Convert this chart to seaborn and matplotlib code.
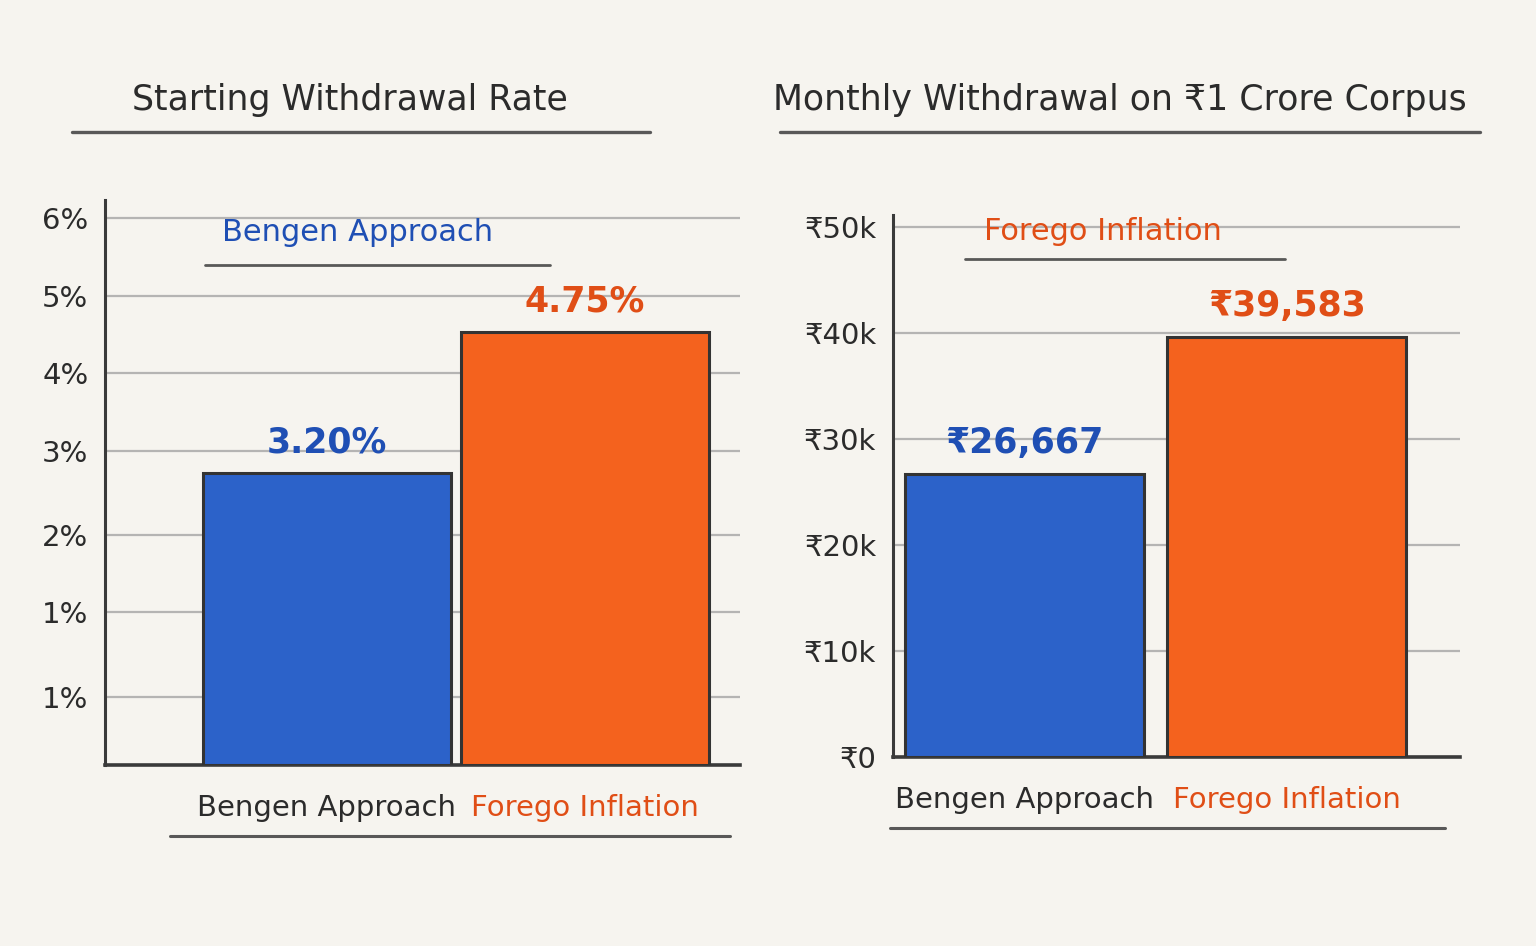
import matplotlib
matplotlib.use('Agg')
import matplotlib.pyplot as plt
import seaborn as sns
from matplotlib.lines import Line2D

# values
approaches = ['Bengen Approach', 'Forego Inflation']
rate_pct = [3.20, 4.75]
rate_labels = ['3.20%', '4.75%']
monthly_inr = [26667, 39583]
monthly_labels = ['₹26,667', '₹39,583']

# tick labels as drawn (the sketch repeats "1%" at the bottom)
rate_tick_pos = [0.75, 1.68, 2.52, 3.45, 4.30, 5.15, 6.0]
rate_tick_labels = ['1%', '1%', '2%', '3%', '4%', '5%', '6%']
monthly_ticks = [0, 10000, 20000, 30000, 40000, 50000]
monthly_tick_labels = ['₹0', '₹10k', '₹20k', '₹30k', '₹40k', '₹50k']

blue = '#2c62c9'
orange = '#f4621e'
blue_text = '#1f4fb4'
orange_text = '#e04e16'
ink = '#2b2b2b'
paper = '#f6f4ef'

sns.set_style('white')
plt.rcParams['font.family'] = ['DejaVu Sans']

fig = plt.figure(figsize=(15.36, 9.46), dpi=100, facecolor=paper)

ax1 = fig.add_axes([105 / 1536, 1 - 765 / 946, 635 / 1536, 565 / 946])
ax2 = fig.add_axes([893 / 1536, 1 - 757 / 946, 567 / 1536, 542 / 946])


def draw_panel(ax, values, labels, ticks, tick_labels, ylim, xlim, width,
               sub_title, sub_color, sub_x, sub_y):
    ax.set_facecolor(paper)
    sns.barplot(x=approaches, y=values, hue=approaches, palette=[blue, orange],
                width=width, edgecolor='#333333', linewidth=2.2, saturation=1,
                legend=False, ax=ax, zorder=3)
    for cont, lab, col in zip(ax.containers, labels, [blue_text, orange_text]):
        ax.bar_label(cont, labels=[lab], padding=10, color=col,
                     fontsize=25, fontweight='bold')
    ax.set_ylim(*ylim)
    ax.set_xlim(*xlim)
    ax.set_yticks(ticks)
    ax.set_yticklabels(tick_labels, fontsize=21, color=ink)
    ax.yaxis.grid(True, color='#9a9a9a', linewidth=1.6, alpha=0.7, zorder=0)
    ax.tick_params(axis='y', length=0, pad=12)
    ax.tick_params(axis='x', length=10, width=1.8, direction='inout',
                   color=ink, pad=16)
    ax.set_xticks([0, 1])
    ax.set_xticklabels(approaches, fontsize=21)
    for t, col in zip(ax.get_xticklabels(), [ink, orange_text]):
        t.set_color(col)
    for s in ['top', 'right']:
        ax.spines[s].set_visible(False)
    ax.spines['left'].set_color('#3a3a3a')
    ax.spines['left'].set_linewidth(2.2)
    ax.spines['bottom'].set_color('#3a3a3a')
    ax.spines['bottom'].set_linewidth(2.6)
    ax.set_xlabel('')
    ax.set_ylabel('')
    ax.text(sub_x, sub_y, sub_title, transform=ax.transAxes, fontsize=22,
            color=sub_color, ha='left', va='center')


draw_panel(ax1, rate_pct, rate_labels, rate_tick_pos, rate_tick_labels,
           (0, 6.2), (-0.86, 1.6), 0.96, 'Bengen Approach', blue_text,
           0.185, 0.943)
draw_panel(ax2, monthly_inr, monthly_labels, monthly_ticks, monthly_tick_labels,
           (0, 51100), (-0.5, 1.66), 0.91, 'Forego Inflation', orange_text,
           0.16, 0.969)

# panel titles
fig.text(350 / 1536, 1 - 100 / 946, 'Starting Withdrawal Rate', fontsize=25,
         color=ink, ha='center', va='center')
fig.text(1120 / 1536, 1 - 100 / 946, 'Monthly Withdrawal on ₹1 Crore Corpus',
         fontsize=25, color=ink, ha='center', va='center')

# pencil underlines
for x0, x1, y, lw in [(72, 650, 132, 2.4), (780, 1480, 132, 2.4),
                      (205, 550, 265, 2.0), (965, 1285, 259, 2.0),
                      (170, 730, 836, 2.2), (890, 1445, 828, 2.2)]:
    fig.add_artist(Line2D([x0 / 1536, x1 / 1536], [1 - y / 946, 1 - y / 946],
                          transform=fig.transFigure, color='#3d3d3d',
                          linewidth=lw, alpha=0.85))

fig.savefig('out.png', dpi=100, facecolor=paper)
